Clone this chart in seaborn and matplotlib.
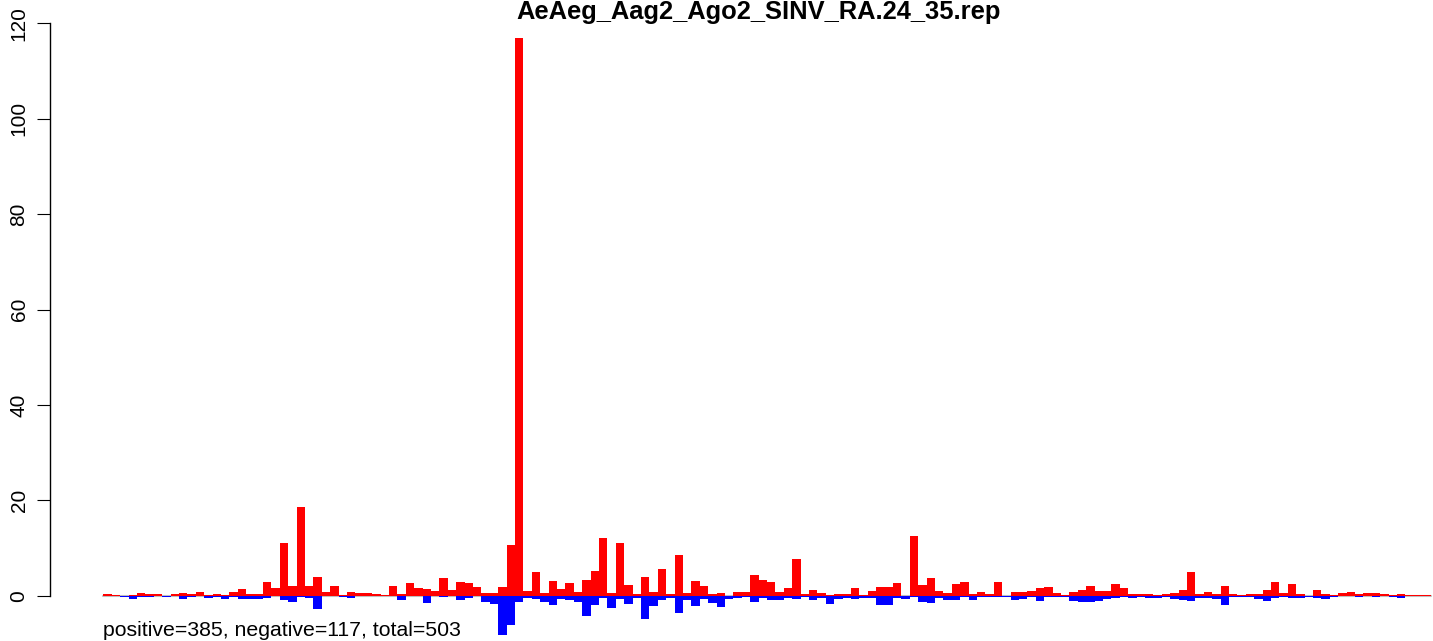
import numpy as np
import pandas as pd
import matplotlib
matplotlib.use("Agg")
import matplotlib.pyplot as plt
import seaborn as sns

title = "AeAeg_Aag2_Ago2_SINV_RA.24_35.rep"
summary = "positive=385, negative=117, total=503"

positive = [
    0.4, 0.2, 0, 0.15, 0.55, 0.35, 0.35, 0, 0.35, 0.55,
    0.35, 0.75, 0.15, 0.35, 0.15, 0.75, 1.45, 0.35, 0.35, 2.9,
    1.7, 11.0, 2.0, 18.6, 2.1, 3.9, 0.8, 2.1, 0.2, 0.8,
    0.6, 0.6, 0.4, 0.2, 2.1, 0.4, 2.7, 1.7, 1.5, 1.05,
    3.8, 1.25, 2.9, 2.7, 1.9, 0.6, 0.6, 1.8, 10.6, 117.0,
    1.0, 5.0, 0.6, 3.1, 1.4, 2.7, 0.8, 3.3, 5.2, 12.1,
    0.6, 11.0, 2.2, 0.35, 3.9, 0.8, 5.6, 0.35, 8.5, 0.6,
    3.1, 2.0, 0.35, 0.6, 0, 0.8, 0.8, 4.3, 3.3, 2.9,
    0.8, 1.6, 7.7, 0.35, 1.2, 0.6, 0.15, 0.35, 0.35, 1.6,
    0.15, 1.0, 1.8, 1.8, 2.7, 0, 12.5, 2.2, 3.7, 1.0,
    0.55, 2.45, 2.9, 0.35, 0.75, 0.35, 2.9, 0, 0.75, 0.75,
    1.0, 1.6, 1.8, 0.55, 0.15, 0.75, 1.2, 2.0, 1.0, 1.0,
    2.45, 1.6, 0.35, 0.35, 0.35, 0.15, 0.35, 0.55, 1.2, 5.0,
    0.35, 0.75, 0.35, 2.0, 0.35, 0.15, 0.35, 0.35, 1.2, 2.9,
    0.55, 2.45, 0.35, 0, 1.2, 0.35, 0.15, 0.55, 0.75, 0.35,
    0.55, 0.55, 0.35, 0.15, 0.35, 0.1, 0.1, 0.1,
]
negative = [
    0, 0, -0.3, -0.7, -0.2, -0.3, -0.1, -0.3, -0.1, -0.6,
    -0.2, 0, -0.5, -0.3, -0.6, -0.2, -0.6, -0.6, -0.6, -0.4,
    0, -0.85, -1.3, -0.3, -0.5, -2.7, 0, 0, -0.2, -0.55,
    0, 0, 0, 0, 0, -0.8, 0, 0, -1.6, 0,
    -0.35, 0, -0.8, -0.55, 0, -1.4, -1.8, -8.3, -6.2, -1.26,
    -0.5, -0.6, -1.3, -1.9, -0.6, -0.8, -1.3, -4.2, -1.9, -0.4,
    -2.5, -0.6, -1.7, -0.4, -4.8, -2.1, -0.8, -0.5, -3.6, -1.0,
    -2.1, -0.6, -1.5, -2.3, -0.6, -0.4, -0.2, -1.3, -0.4, -0.8,
    -0.8, -0.4, -0.6, -0.2, -0.8, -0.4, -1.7, -0.6, -0.4, -0.6,
    -0.4, -0.4, -1.9, -1.9, -0.4, -0.6, -0.2, -1.3, -1.5, -0.4,
    -0.85, -0.85, -0.35, -0.85, -0.3, -0.3, -0.2, -0.2, -0.85, -0.6,
    -0.3, -1.05, -0.3, -0.3, -0.3, -1.05, -1.25, -1.25, -1.05, -0.6,
    -0.4, -0.2, -0.4, -0.2, -0.4, -0.4, -0.2, -0.6, -0.85, -1.05,
    -0.4, -0.4, -0.6, -1.9, -0.2, -0.2, -0.2, -0.6, -1.05, -0.4,
    -0.2, -0.4, -0.4, -0.2, -0.4, -0.6, -0.2, 0, 0, -0.2,
    0, -0.2, 0, -0.2, -0.4, 0, 0, 0,
]
yticks = [0, 20, 40, 60, 80, 100, 120]

n = len(positive)
df = pd.DataFrame({"pos": np.arange(n), "positive": positive, "negative": negative})

sns.set_theme(style="ticks")
plt.rcParams["font.family"] = ["Liberation Sans", "DejaVu Sans"]

W, H = 1433, 641
fig = plt.figure(figsize=(W / 100, H / 100), dpi=100)
ax = fig.add_axes([50 / W, 0, (W - 50) / W, 1])

# baseline
ax.plot([-0.5, n - 0.5], [0, 0], color="#BEBEBE", lw=1.5, zorder=0)

sns.barplot(data=df, x="pos", y="positive", color="#FF0000", saturation=1,
            width=1.0, linewidth=0, errorbar=None, ax=ax, zorder=2)
sns.barplot(data=df, x="pos", y="negative", color="#0000FF", saturation=1,
            width=1.0, linewidth=0, errorbar=None, ax=ax, zorder=2)

px_x = 8.40
px_y = 4.77
x0 = 103.3
ax.set_xlim(-0.5 - (x0 - 50) / px_x, -0.5 + (W - x0) / px_x)
ax.set_ylim(-(H - 595.7) / px_y, 595.7 / px_y)

for s in ["top", "right", "bottom"]:
    ax.spines[s].set_visible(False)
ax.spines["left"].set_bounds(0, 120)
ax.spines["left"].set_linewidth(1.0)
ax.spines["left"].set_color("black")
ax.set_xticks([])
ax.set_yticks(yticks)
ax.set_yticklabels([str(v) for v in yticks], rotation=90, va="center",
                   fontsize=15, color="black")
ax.tick_params(axis="y", length=9.4, width=0.8, pad=6, color="black")
ax.set_xlabel("")
ax.set_ylabel("")
ax.patch.set_alpha(0)

fig.text(758.5 / W, 1 - 19 / H, title, ha="center", va="baseline",
         fontsize=18.4, fontweight="bold", color="black")
fig.text(x0 / W, 1 - 635.7 / H, summary, ha="left", va="baseline",
         fontsize=15.3, color="black")

fig.savefig("out.png", dpi=100, facecolor="white")
